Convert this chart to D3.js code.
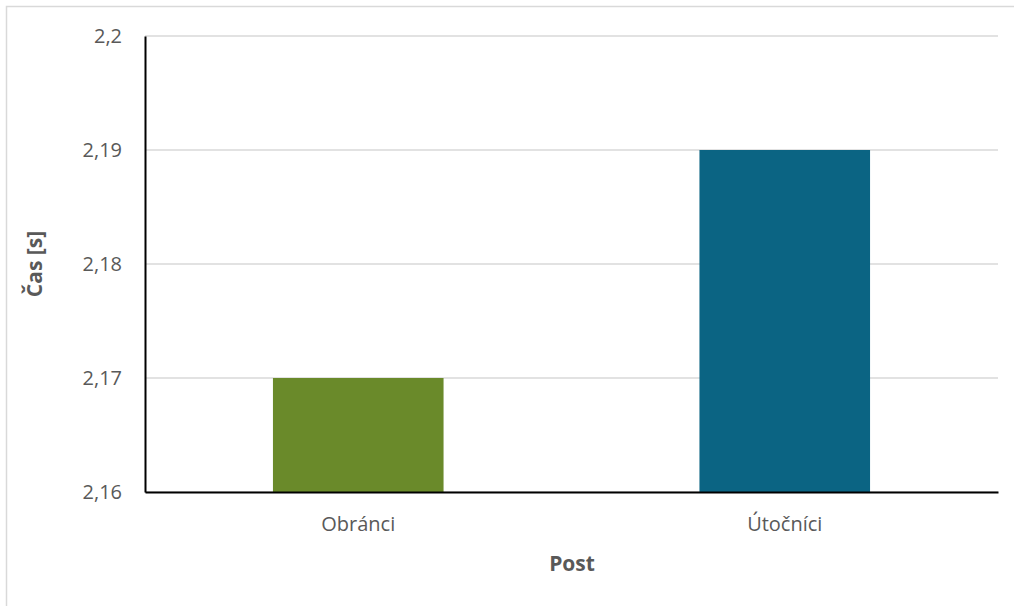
<!DOCTYPE html>
<html><head><meta charset="utf-8">
<script src="https://cdn.jsdelivr.net/npm/d3@7"></script>
<style>body{margin:0;background:#fff;}svg{display:block;font-family:"Open Sans","Noto Sans",sans-serif;}</style>
</head><body>
<svg id="c" width="1014" height="606"></svg>
<script>
const categories = ["Obránci", "Útočníci"];
const values = [2.17, 2.19];
const colors = ["#6a8a2a", "#0b6483"];
const yTicks = [2.16, 2.17, 2.18, 2.19, 2.2];
const yTitle = "Čas [s]";
const xTitle = "Post";

const svg = d3.select("#c");
const m = {left:145, right:998, top:36, bottom:492};
svg.append("rect").attr("x",6.5).attr("y",6.5).attr("width",1020).attr("height",620)
  .attr("fill","none").attr("stroke","#d9d9d9").attr("stroke-width",1.5);

const x = d3.scaleBand().domain(categories).range([m.left, m.right]).paddingInner(0.6).paddingOuter(0.3);
const y = d3.scaleLinear().domain([2.16, 2.2]).range([m.bottom, m.top]);
const fmt = d => d3.format(".2~f")(d).replace(".", ",");

svg.append("g").selectAll("line").data(yTicks).join("line")
  .attr("x1", m.left).attr("x2", m.right).attr("y1", d=>y(d)).attr("y2", d=>y(d))
  .attr("stroke","#d9d9d9").attr("stroke-width",1.5);

svg.append("g").selectAll("rect").data(categories).join("rect")
  .attr("x", d=>x(d)).attr("width", x.bandwidth())
  .attr("y", (d,i)=>y(values[i])).attr("height", (d,i)=>y(2.16)-y(values[i]))
  .attr("fill", (d,i)=>colors[i]);

const ya = d3.axisLeft(y).tickValues(yTicks).tickFormat(fmt).tickSize(0).tickPadding(23);
const gy = svg.append("g").attr("transform",`translate(${m.left},0)`).call(ya)
  .attr("font-family", null).attr("font-size", null);
gy.select(".domain").attr("stroke","#000").attr("stroke-width",2);
gy.selectAll("text").attr("fill","#595959").attr("font-size",20);

const xa = d3.axisBottom(x).tickSize(0).tickPadding(25);
const gx = svg.append("g").attr("transform",`translate(0,${m.bottom})`).call(xa)
  .attr("font-family", null).attr("font-size", null);
gx.select(".domain").attr("stroke","#000").attr("stroke-width",2);
gx.selectAll("text").attr("fill","#595959").attr("font-size",20);

svg.append("text").attr("x",572).attr("y",571).attr("text-anchor","middle")
  .attr("font-weight","bold").attr("font-size",21).attr("fill","#595959").text(xTitle);
svg.append("text").attr("transform","translate(42,264) rotate(-90)").attr("text-anchor","middle")
  .attr("font-weight","bold").attr("font-size",21).attr("fill","#595959").text(yTitle);
</script>
</body></html>
